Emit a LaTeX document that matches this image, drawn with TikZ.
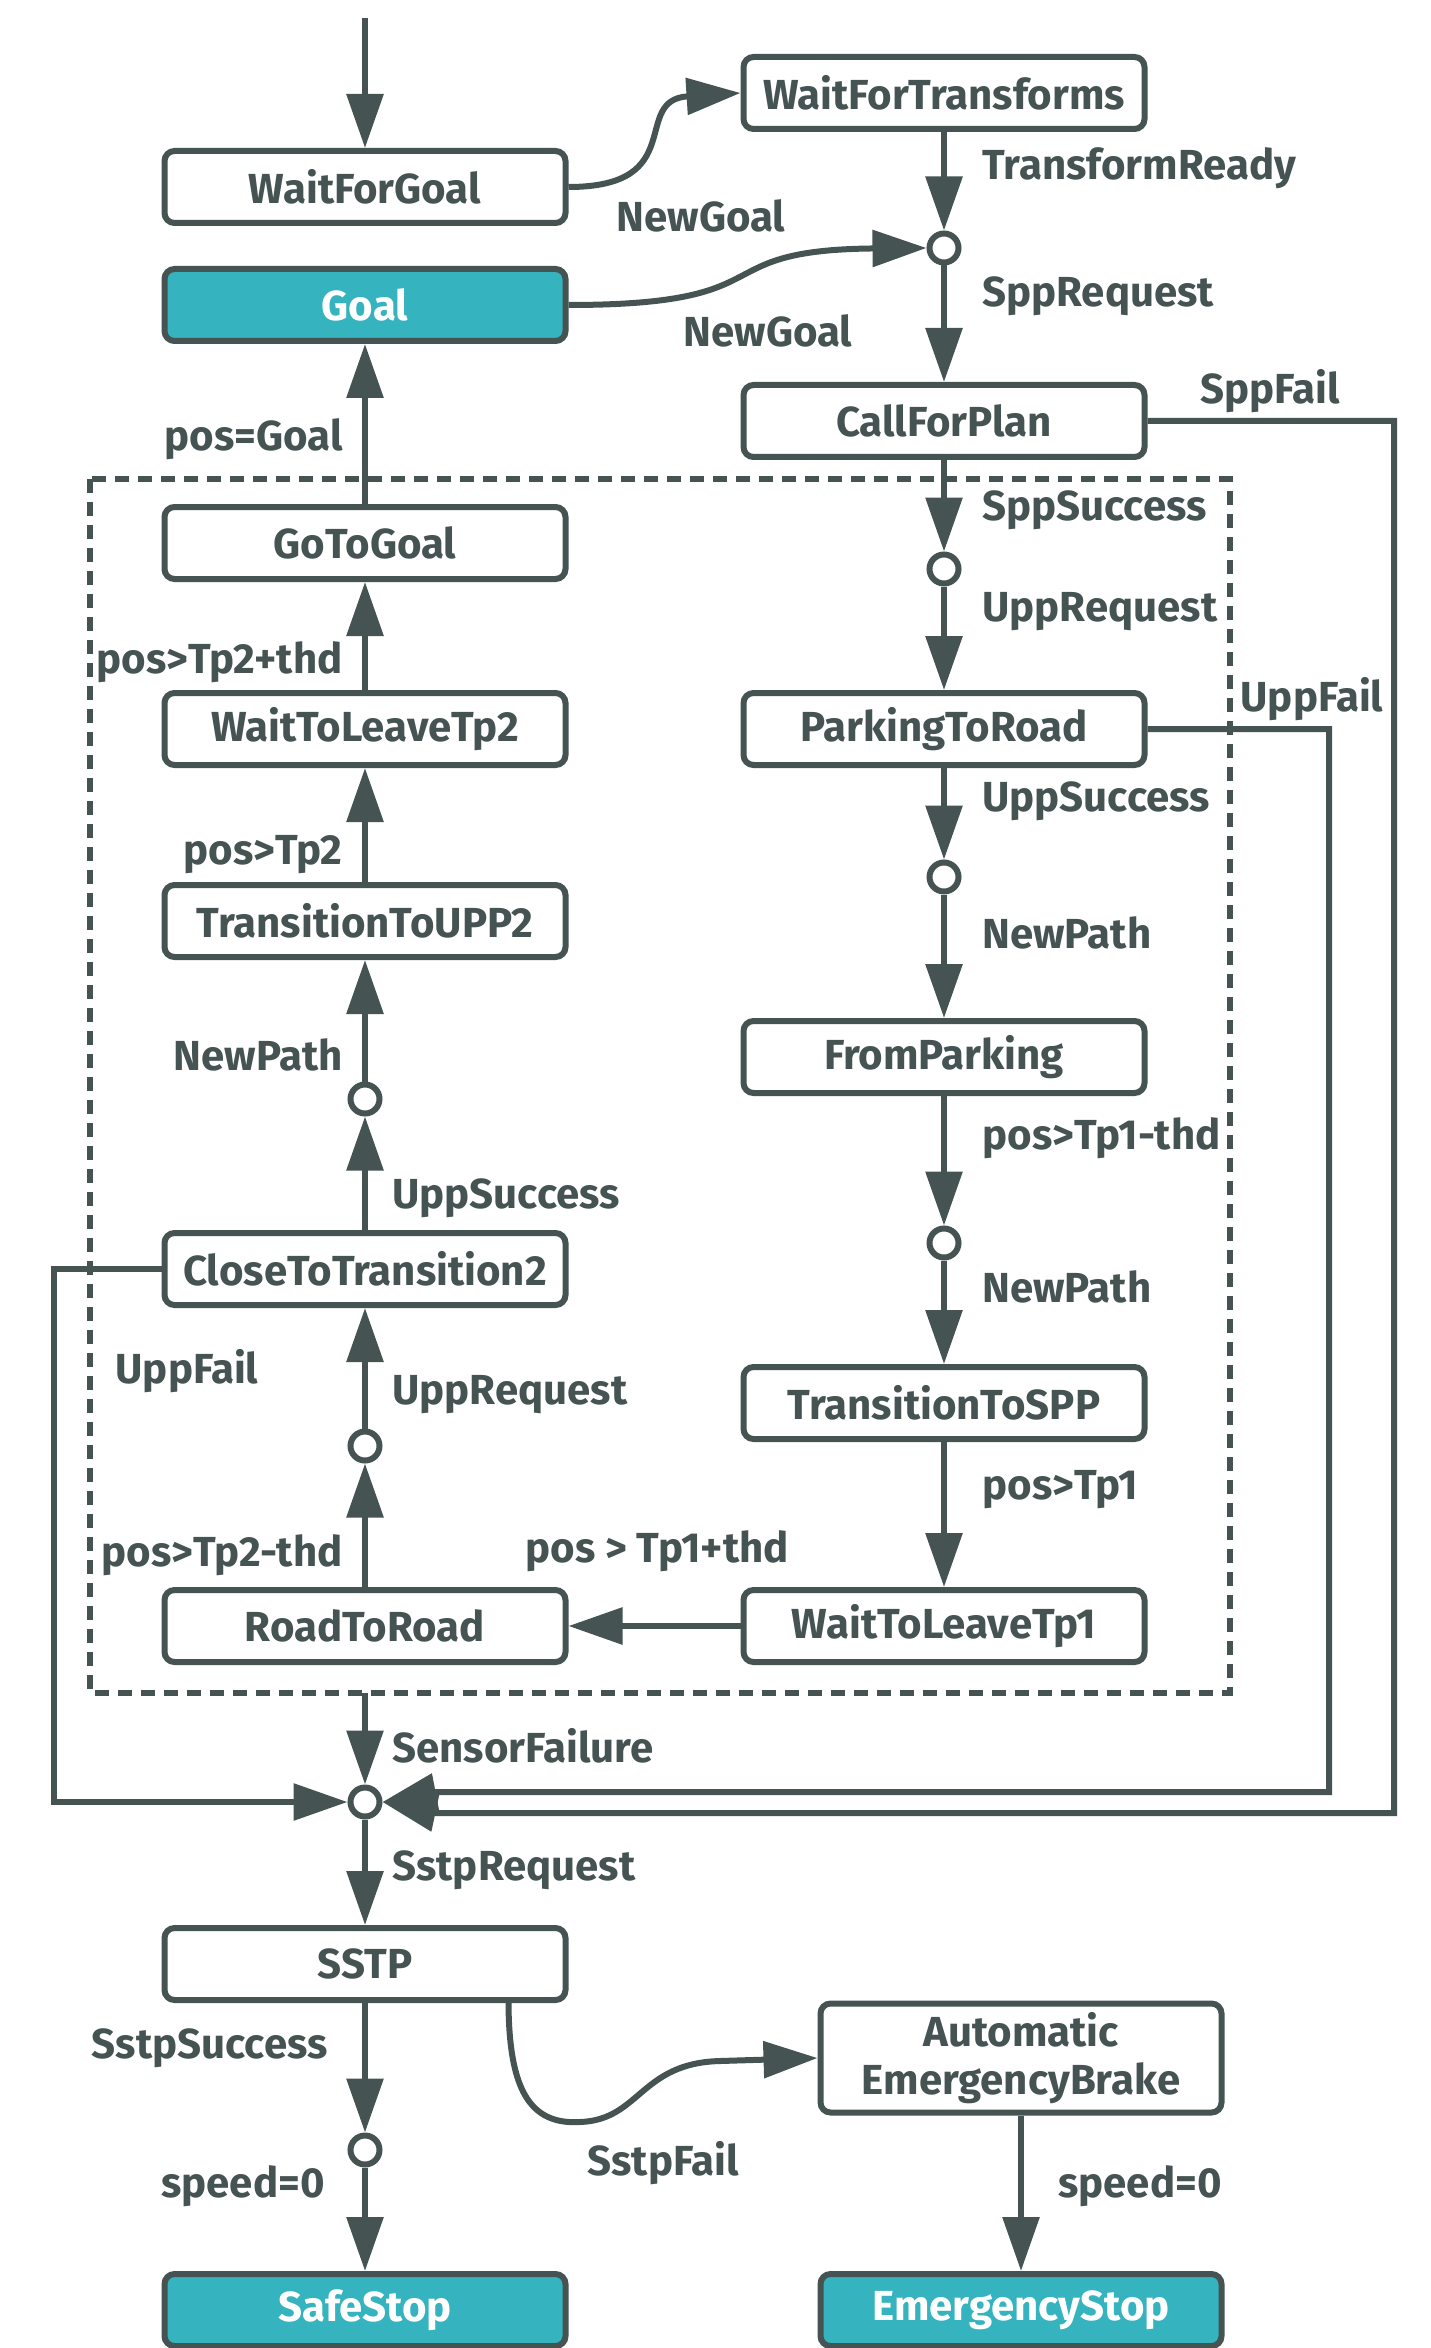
\documentclass[tikz,border=0pt]{standalone}
\usepackage{fontspec}
\setmainfont{Fira Sans}
\usetikzlibrary{arrows.meta,calc}
\definecolor{ln}{HTML}{455353}
\definecolor{tealfill}{HTML}{35B3BF}
\begin{document}
\begin{tikzpicture}[x=0.5pt,y=-0.5pt,
  txt/.style={font=\fontsize{21}{24}\selectfont\bfseries},
  state/.style={txt, draw=ln, line width=3pt, rounded corners=5pt, minimum width=200.5pt, minimum height=36pt, fill=white, text=ln, inner sep=2pt, align=center},
  final/.style={state, fill=tealfill, text=white},
  junc/.style={circle, draw=ln, line width=3pt, fill=white, minimum size=14.5pt, inner sep=0pt},
  arr/.style={draw=ln, line width=3pt, -{Triangle[length=27pt,width=18pt]}},
  lbl/.style={txt, text=ln, inner sep=0pt},
]
\useasboundingbox (0,0) rectangle (1430,2348);

% dashed group
\draw[ln, line width=2.6pt, dash pattern=on 7pt off 4.5pt] (90,479) rectangle (1230,1693);

% nodes
\node[state] (WFG) at (365,187) {WaitForGoal};
\node[final] (Goal) at (365,305) {Goal};
\node[state] (WFT) at (944,93) {WaitForTransforms};
\node[junc] (j1) at (944,248) {};
\node[state] (CFP) at (944,421) {CallForPlan};
\node[state] (GTG) at (365,543) {GoToGoal};
\node[junc] (j2) at (944,569) {};
\node[state] (PTR) at (944,729) {ParkingToRoad};
\node[state] (WTL2) at (365,729) {WaitToLeaveTp2};
\node[junc] (j3) at (944,877) {};
\node[state] (TUPP2) at (365,921) {TransitionToUPP2};
\node[state] (FP) at (944,1057) {FromParking};
\node[junc] (jL1) at (365,1099) {};
\node[junc] (j4) at (944,1243) {};
\node[state] (CTT2) at (365,1269) {CloseToTransition2};
\node[state] (TSPP) at (944,1403) {TransitionToSPP};
\node[junc] (jL2) at (365,1446) {};
\node[state] (RTR) at (365,1626) {RoadToRoad};
\node[state] (WTL1) at (944,1626) {WaitToLeaveTp1};
\node[junc] (jB) at (365,1802) {};
\node[state] (SSTP) at (365,1964) {SSTP};
\node[state, minimum height=54.5pt] (AEB) at (1021,2058) {Automatic\\EmergencyBrake};
\node[junc] (jS) at (365,2150) {};
\node[final] (Safe) at (365,2310) {SafeStop};
\node[final] (EStop) at (1021,2310) {EmergencyStop};

\coordinate (start) at (365,18);
\coordinate (dbot) at (365,1693);
\coordinate (sf) at (1394,1813);
\coordinate (sfh) at (434,1813);
\coordinate (uf) at (1329,1792);
\coordinate (ufh) at (434,1792);
\coordinate (ufl) at (54,1802);

% connectors
\draw[arr] (start) -- (WFG);
\draw[arr] (WFG.east) .. controls (690,187) and (630,100) .. (WFT.west);
\draw[arr] (Goal.east) .. controls (790,305) and (700,250) .. (j1.west);
\draw[arr] (WFT) -- (j1);
\draw[arr] (j1) -- (CFP);
\draw[arr] (CFP) -- (j2);
\draw[arr] (j2) -- (PTR);
\draw[arr] (PTR) -- (j3);
\draw[arr] (j3) -- (FP);
\draw[arr] (FP) -- (j4);
\draw[arr] (j4) -- (TSPP);
\draw[arr] (TSPP) -- (WTL1);
\draw[arr] (WTL1) -- (RTR);
\draw[arr] (RTR) -- (jL2);
\draw[arr] (jL2) -- (CTT2);
\draw[arr] (CTT2) -- (jL1);
\draw[arr] (jL1) -- (TUPP2);
\draw[arr] (TUPP2) -- (WTL2);
\draw[arr] (WTL2) -- (GTG);
\draw[arr] (GTG) -- (Goal);
\draw[arr] (dbot) -- (jB);
\draw[arr] (CFP.east) -| (sf) -- (sfh) -- (jB.east);
\draw[arr] (PTR.east) -| (uf) -- (ufh) -- (jB.east);
\draw[arr] (CTT2.west) -| (ufl) -- (jB.west);
\draw[arr] (jB) -- (SSTP);
\draw[arr] (SSTP) -- (jS);
\draw[arr] (jS) -- (Safe);
\draw[arr] ([xshift=-30pt]SSTP.south east) .. controls (509,2090) and (530,2125) .. (580,2122) .. controls (640,2120) and (640,2063) .. (720,2061) -- (AEB.west);
\draw[arr] (AEB) -- (EStop);

% labels
\node[lbl] (l1) at (701,216) {NewGoal};
\node[lbl] (l2) at (768,331) {NewGoal};
\node[lbl, anchor=west] (l3) at (982,168) {TransformReady};
\node[lbl, anchor=west] (l4) at (982,296) {SppRequest};
\node[lbl] (l5) at (1270,391) {SppFail};
\node[lbl, anchor=west] (l6) at (982,510) {SppSuccess};
\node[lbl, anchor=west] (l7) at (982,612) {UppRequest};
\node[lbl] (l8) at (1312,699) {UppFail};
\node[lbl, anchor=west] (l9) at (982,801) {UppSuccess};
\node[lbl, anchor=west] (l10) at (982,933) {NewPath};
\node[lbl, anchor=west] (l11) at (982,1138) {pos>Tp1-thd};
\node[lbl, anchor=west] (l12) at (982,1287) {NewPath};
\node[lbl, anchor=west] (l13) at (982,1490) {pos>Tp1};
\node[lbl] (l14) at (657,1551) {pos > Tp1+thd};
\node[lbl, anchor=east] (l15) at (343,439) {pos=Goal};
\node[lbl, anchor=east] (l16) at (343,662) {pos>Tp2+thd};
\node[lbl, anchor=east] (l17) at (343,855) {pos>Tp2};
\node[lbl, anchor=east] (l18) at (343,1055) {NewPath};
\node[lbl, anchor=west] (l19) at (392,1198) {UppSuccess};
\node[lbl] (l20) at (187,1371) {UppFail};
\node[lbl, anchor=west] (l21) at (392,1395) {UppRequest};
\node[lbl, anchor=east] (l22) at (343,1555) {pos>Tp2-thd};
\node[lbl, anchor=west] (l23) at (392,1746) {SensorFailure};
\node[lbl, anchor=west] (l24) at (392,1870) {SstpRequest};
\node[lbl, anchor=east] (l25) at (328,2048) {SstpSuccess};
\node[lbl, anchor=east] (l26) at (325,2186) {speed=0};
\node[lbl] (l27) at (663,2163) {SstpFail};
\node[lbl, anchor=west] (l28) at (1058,2186) {speed=0};
\end{tikzpicture}
\end{document}
